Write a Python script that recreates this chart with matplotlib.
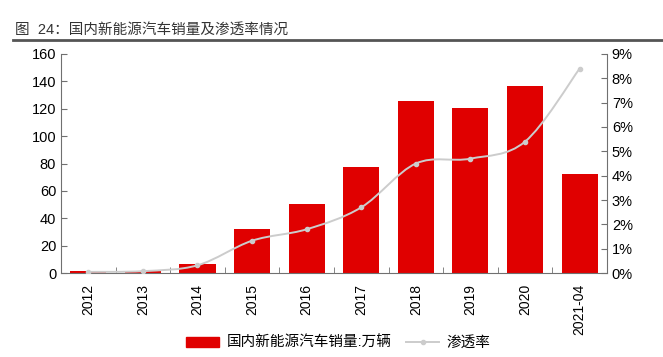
import numpy as np
import matplotlib.pyplot as plt
from matplotlib.path import Path
from matplotlib.patches import PathPatch, Rectangle
from matplotlib.lines import Line2D

plt.rcParams['font.family'] = ['Liberation Sans', 'Noto Sans CJK SC']

years = ["2012", "2013", "2014", "2015", "2016", "2017", "2018", "2019", "2020", "2021-04"]
sales = [1.3, 1.8, 7.0, 32.5, 50.5, 77.5, 125.6, 120.6, 136.7, 72.5]
rate = [0.05, 0.08, 0.32, 1.33, 1.8, 2.7, 4.5, 4.7, 5.4, 8.4]

bar_color = "#e00000"
line_color = "#cccccc"
spine_color = "#707070"

fig = plt.figure(figsize=(6.63, 3.57), dpi=100)
ax = fig.add_axes([0.092, 0.235, 0.8235, 0.614])
x = np.arange(len(years))
ax.bar(x, sales, width=0.66, color=bar_color, zorder=2)
ax.set_xlim(-0.5, len(years) - 0.5)
ax.set_ylim(0, 160)
ax.set_yticks(range(0, 161, 20))
ax.set_xticks(x)
ax.set_xticklabels(years, rotation=90, fontsize=10)
ax.set_xticks(x[:-1] + 0.5, minor=True)
ax.tick_params(axis="x", which="major", length=0, pad=8)
ax.tick_params(axis="x", which="minor", direction="in", length=4, color=spine_color)
ax.tick_params(axis="y", direction="in", length=4, color=spine_color, labelsize=10.5)
for s in ["top", "right"]:
    ax.spines[s].set_visible(False)
for s in ["left", "bottom"]:
    ax.spines[s].set_color(spine_color)

ax2 = ax.twinx()
ax2.set_ylim(0, 9)
ax2.set_yticks(range(0, 10))
ax2.set_yticklabels([f"{v}%" for v in range(0, 10)])
ax2.tick_params(axis="y", direction="in", length=4, color=spine_color, labelsize=10.5)
for s in ["top", "left", "bottom"]:
    ax2.spines[s].set_visible(False)
ax2.spines["right"].set_color(spine_color)

# smooth curve through the rate points (Catmull-Rom as cubic Bezier)
pts = np.column_stack([x, rate])
verts = [tuple(pts[0])]
codes = [Path.MOVETO]
for i in range(len(pts) - 1):
    p0 = pts[max(i - 1, 0)]
    p1 = pts[i]
    p2 = pts[i + 1]
    p3 = pts[min(i + 2, len(pts) - 1)]
    c1 = p1 + (p2 - p0) / 6
    c2 = p2 - (p3 - p1) / 6
    verts += [tuple(c1), tuple(c2), tuple(p2)]
    codes += [Path.CURVE4] * 3
ax2.add_patch(PathPatch(Path(verts, codes), facecolor="none", edgecolor=line_color, lw=1.4, zorder=3))
ax2.plot(x, rate, linestyle="none", marker="o", markersize=3, color=line_color, zorder=4)

fig.text(0.022, 0.905, "图  24：国内新能源汽车销量及渗透率情况", fontsize=10.5, color="#333333")
fig.add_artist(Line2D([0.02, 1.0], [0.888, 0.888], color="#555555", lw=2))

handles = [Rectangle((0, 0), 1, 1, color=bar_color),
           Line2D([], [], color=line_color, lw=1.4, marker="o", markersize=3)]
fig.legend(handles, ["国内新能源汽车销量:万辆", "渗透率"], loc="center",
           bbox_to_anchor=(0.51, 0.04), ncol=2, frameon=False, fontsize=10.5,
           handlelength=2.3, columnspacing=1.0, handletextpad=0.5)

fig.savefig("out.png", dpi=100)
